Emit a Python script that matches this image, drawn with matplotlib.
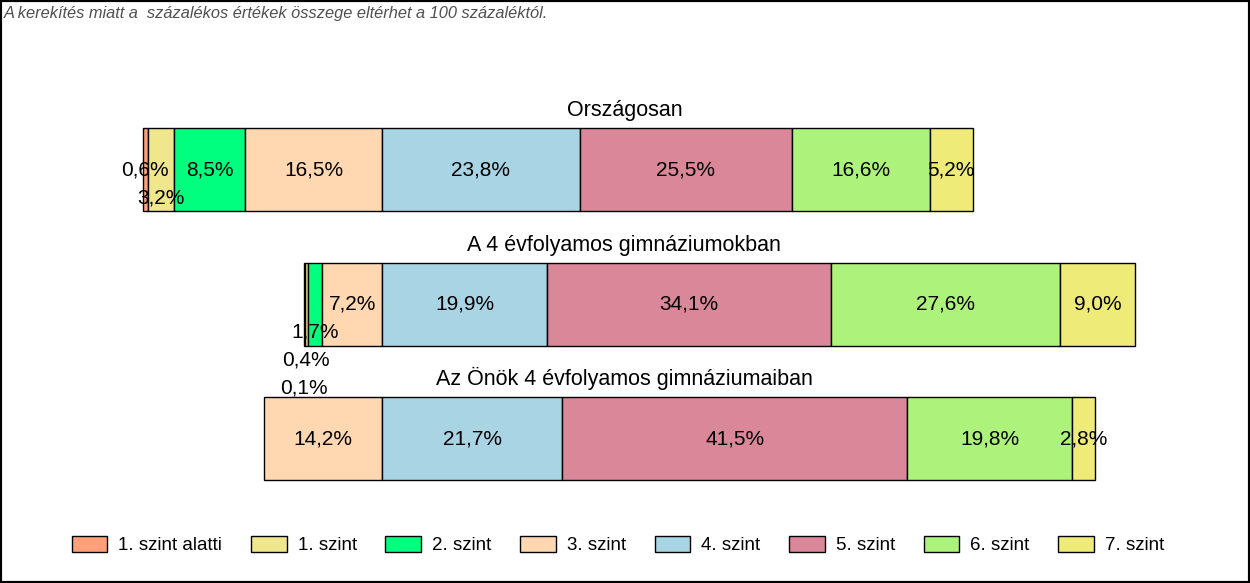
import matplotlib
matplotlib.use('Agg')
import matplotlib.pyplot as plt
from matplotlib.patches import Patch, Rectangle

plt.rcParams['font.family'] = ['Liberation Sans', 'DejaVu Sans']

# adatok
groups = ['Országosan', 'A 4 évfolyamos gimnáziumokban', 'Az Önök 4 évfolyamos gimnáziumaiban']
levels = ['1. szint alatti', '1. szint', '2. szint', '3. szint',
          '4. szint', '5. szint', '6. szint', '7. szint']
orszagos = [0.6, 3.2, 8.5, 16.5, 23.8, 25.5, 16.6, 5.2]
gimn4 = [0.1, 0.4, 1.7, 7.2, 19.9, 34.1, 27.6, 9.0]
onok = [0.0, 0.0, 0.0, 14.2, 21.7, 41.5, 19.8, 2.8]
colors = ['#FFA07A', '#F0E68C', '#00FF7F', '#FFD8B2',
          '#A9D4E4', '#D98799', '#ADF27A', '#EEEB78']
note = 'A kerekítés miatt a  százalékos értékek összege eltérhet a 100 százaléktól.'

rows = [orszagos, gimn4, onok]

W, H = 1250, 583
px_per_pct = 8.31
zero_px = 382
row_px = [169.5, 305, 438.8]
row_step = (row_px[2] - row_px[0]) / 2
bar_h = 83 / row_step

fig = plt.figure(figsize=(W / 100, H / 100), dpi=100)
ax = fig.add_axes([0, 0, 1, 1])
ax.set_xlim(-zero_px / px_per_pct, (W - zero_px) / px_per_pct)
ax.set_ylim((H - row_px[0]) / row_step, -row_px[0] / row_step)
ax.axis('off')

renderer = fig.canvas.get_renderer()

def fmt(v):
    return f'{v:.1f}'.replace('.', ',') + '%'

for i, vals in enumerate(rows):
    lefts = []
    for j in range(8):
        if j < 4:
            lefts.append(-sum(vals[j:4]))
        else:
            lefts.append(sum(vals[4:j]))
    for j in range(8):
        if vals[j] > 0:
            ax.barh(i, vals[j], left=lefts[j], height=bar_h, color=colors[j],
                    edgecolor='black', linewidth=1)

    # feliratok: a 3/4 határtól kifelé, ütközés esetén lejjebb
    placed = []
    order = [3, 2, 1, 0, 4, 5, 6, 7]
    for j in order:
        if vals[j] <= 0:
            continue
        xc = lefts[j] + vals[j] / 2
        t = ax.annotate(fmt(vals[j]), xy=(xc, i), xytext=(0, 0), textcoords='offset points',
                        ha='center', va='center', fontsize=15, color='black')
        bb = t.get_window_extent(renderer)
        lvl = 0
        while any(l == lvl and bb.x0 < b1 + 3 and bb.x1 > b0 - 3 for b0, b1, l in placed):
            lvl += 1
        t.xyann = (0, -lvl * 20.2)
        placed.append((bb.x0, bb.x1, lvl))

    ax.annotate(groups[i], xy=(0.4995, i - bar_h / 2),
                xycoords=(ax.transAxes, ax.transData),
                xytext=(0, 8.5), textcoords='offset points',
                ha='center', va='baseline', fontsize=15.5, color='black')

fig.text(4 / W, 1 - 18 / H, note, ha='left', va='baseline', fontsize=11.8,
         style='italic', color='#505050')

handles = [Patch(facecolor=c, edgecolor='black', linewidth=1) for c in colors]
fig.legend(handles, levels, loc='center', bbox_to_anchor=(618 / W, 1 - 545 / H),
           ncol=8, frameon=False, fontsize=13.5, handlelength=1.9, handleheight=1.0,
           handletextpad=0.6, columnspacing=1.52)

fig.add_artist(Rectangle((0, 0), 1, 1, transform=fig.transFigure, fill=False,
                         linewidth=3, edgecolor='black'))

fig.savefig('out.png', dpi=100)
